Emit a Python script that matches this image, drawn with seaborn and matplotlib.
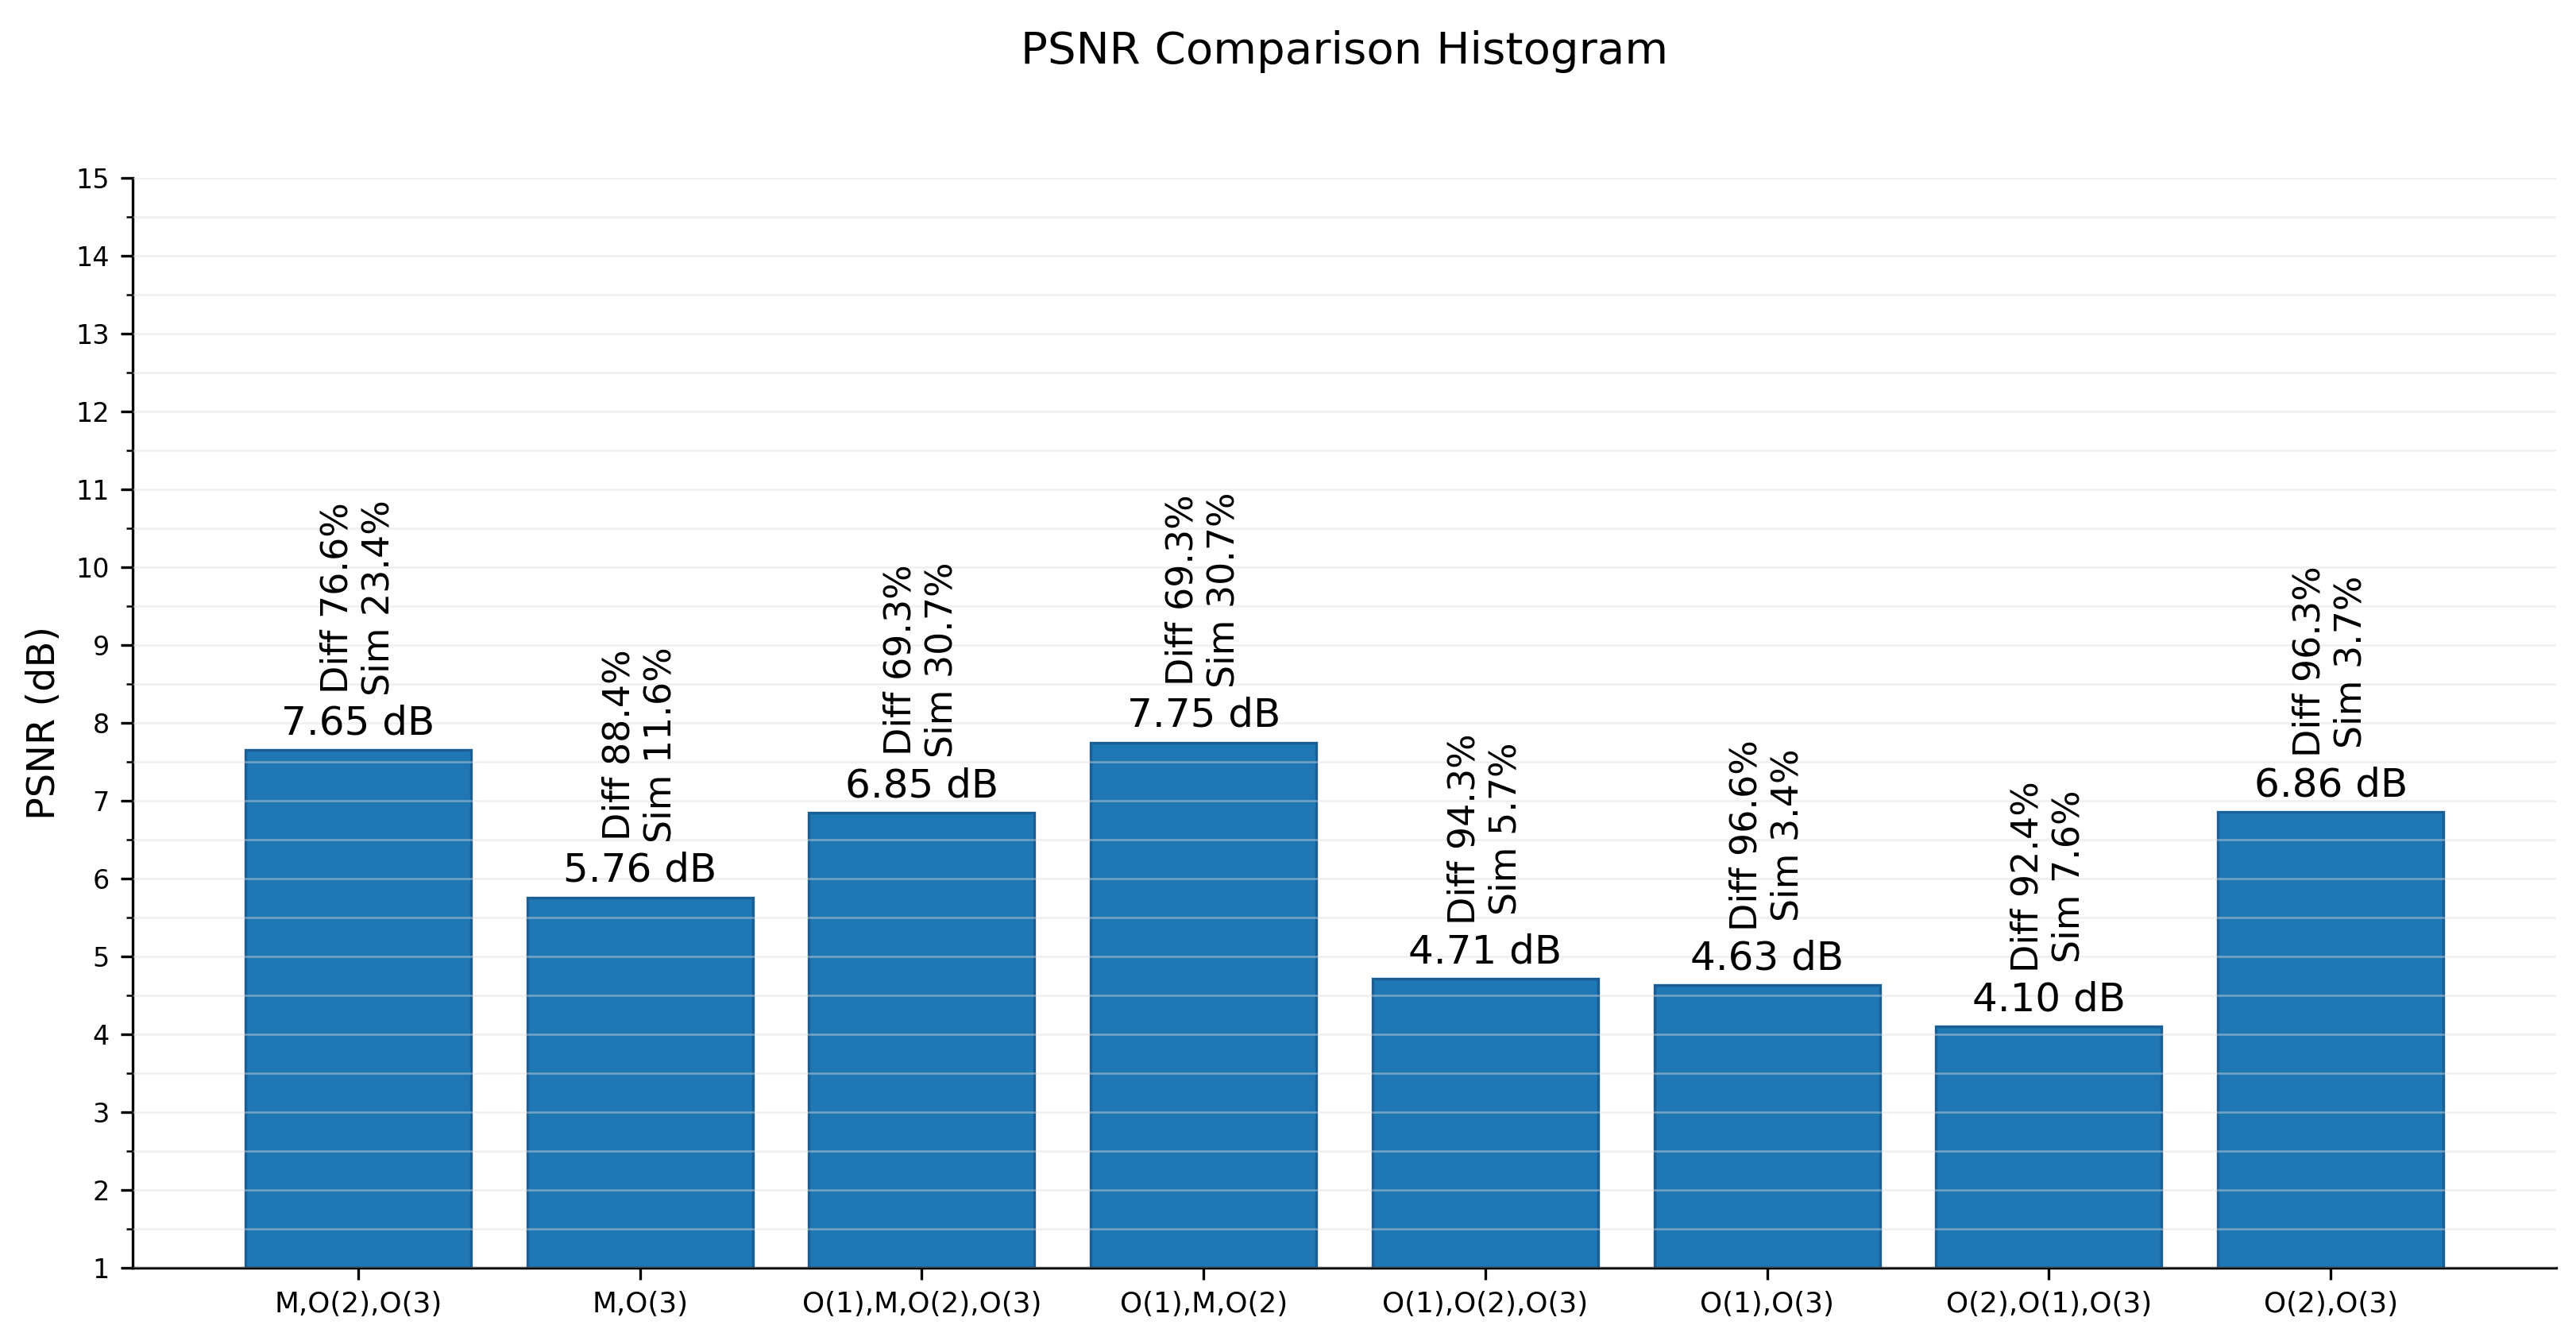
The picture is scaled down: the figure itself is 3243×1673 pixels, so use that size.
import matplotlib
matplotlib.use("Agg")
import matplotlib.pyplot as plt
import seaborn as sns
import pandas as pd
from matplotlib.ticker import MultipleLocator

# Dados
metodos = ["M,O(2),O(3)", "M,O(3)", "O(1),M,O(2),O(3)", "O(1),M,O(2)",
           "O(1),O(2),O(3)", "O(1),O(3)", "O(2),O(1),O(3)", "O(2),O(3)"]
psnr = [7.65, 5.76, 6.85, 7.75, 4.71, 4.63, 4.10, 6.86]
diff_pct = [76.6, 88.4, 69.3, 69.3, 94.3, 96.6, 92.4, 96.3]
sim_pct = [23.4, 11.6, 30.7, 30.7, 5.7, 3.4, 7.6, 3.7]

df = pd.DataFrame({"metodo": metodos, "psnr": psnr})

sns.set_style("ticks")
plt.rcParams["font.family"] = ["DejaVu Sans"]
plt.rcParams["text.color"] = "black"
plt.rcParams["axes.labelcolor"] = "black"
plt.rcParams["xtick.color"] = "black"
plt.rcParams["ytick.color"] = "black"
plt.rcParams["axes.edgecolor"] = "black"

fig, ax = plt.subplots(figsize=(10.813, 5.577), dpi=300)
fig.subplots_adjust(left=0.0515, right=0.992, top=0.866, bottom=0.046)

sns.barplot(data=df, x="metodo", y="psnr", color="#1f77b4", saturation=1,
            edgecolor="#1a5e94", linewidth=0.8, width=0.8, ax=ax)

ax.set_ylim(1, 15)
ax.set_xlim(-0.8, len(metodos) - 0.2)
ax.yaxis.set_major_locator(MultipleLocator(1))
ax.yaxis.set_minor_locator(MultipleLocator(0.5))
ax.grid(axis="y", which="both", color="#dddddd", alpha=0.45, linewidth=0.6)
ax.set_axisbelow(False)
ax.tick_params(axis="y", labelsize=8)
ax.tick_params(axis="x", labelsize=8.6)
ax.set_xlabel("")
ax.set_ylabel("PSNR (dB)", fontsize=11.5)
sns.despine(ax=ax)

# Rótulos de valor e percentuais
for i, (v, d, s) in enumerate(zip(psnr, diff_pct, sim_pct)):
    ax.text(i, v + 0.1, f"{v:.2f} dB", ha="center", va="bottom", fontsize=12)
    ax.text(i, v + 0.7, f"Diff {d:.1f}%\nSim {s:.1f}%", ha="center",
            va="bottom", rotation=90, fontsize=11)

ax.set_title("PSNR Comparison Histogram", fontsize=13.5, y=1.098, va="center")

fig.savefig("out.png", dpi=300)
